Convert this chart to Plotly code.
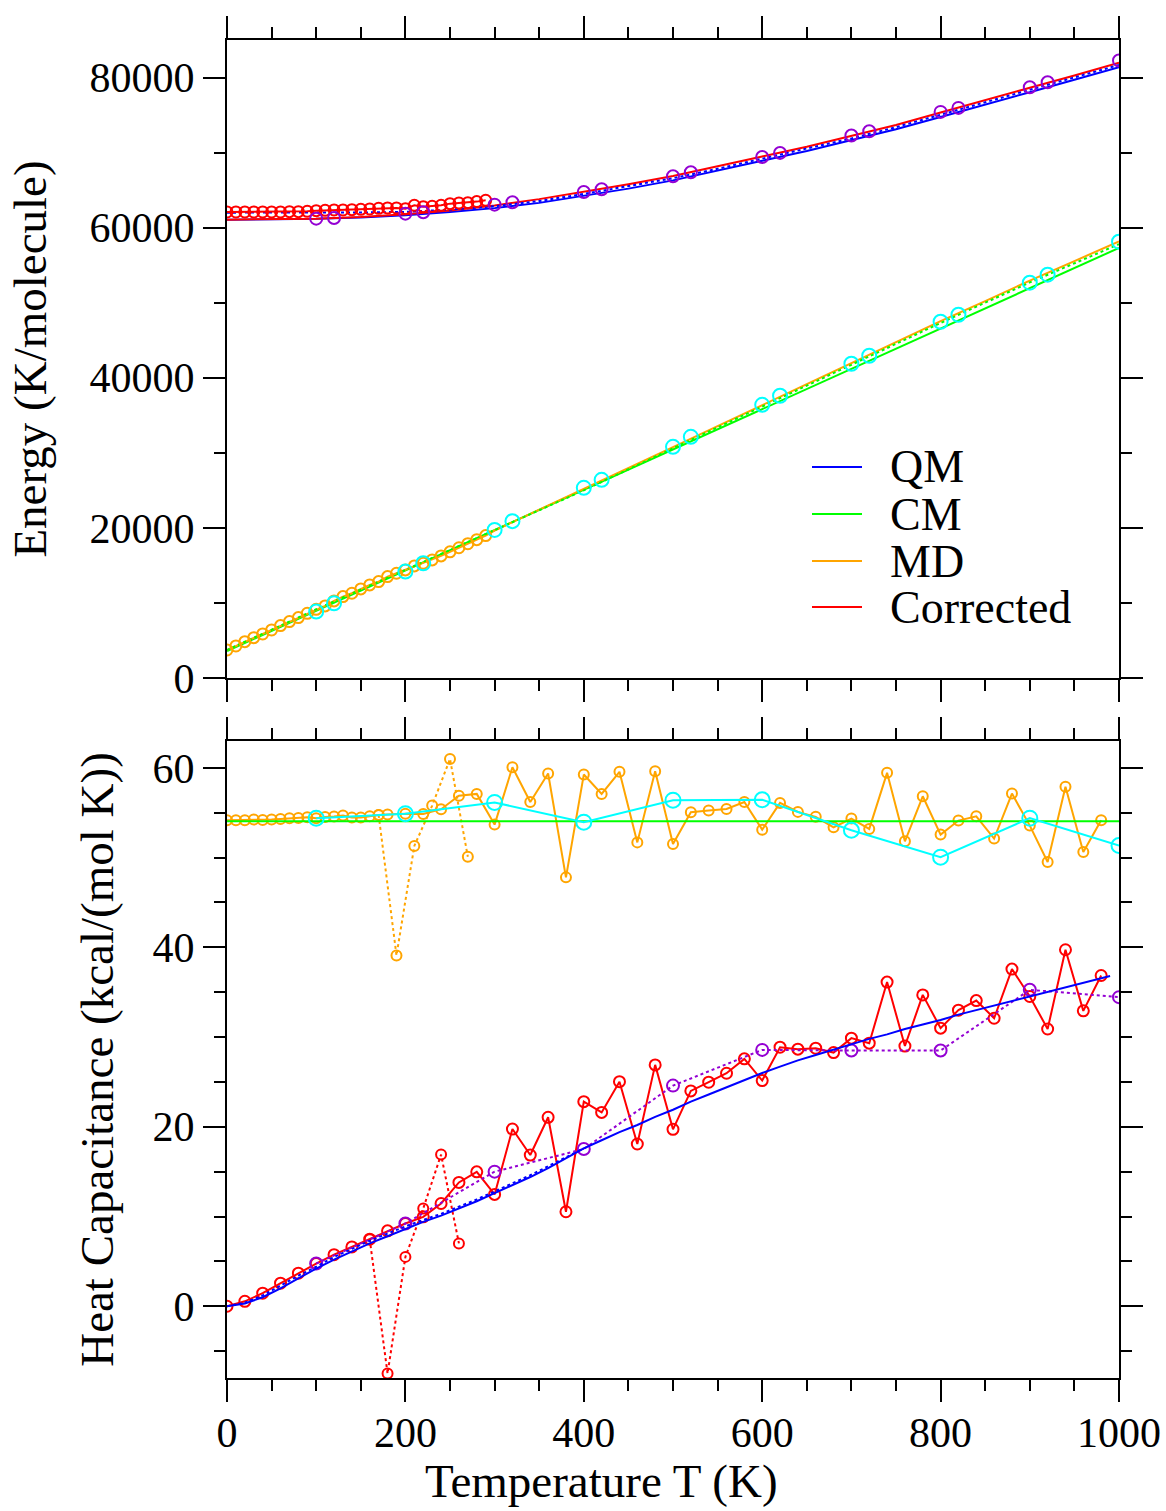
import plotly.graph_objects as go

# ================= TOP PANEL : Energy (K/molecule) =================
T_top_line = [0, 50, 100, 150, 200, 250, 300, 350, 400, 450, 500, 550, 600, 650, 700, 750, 800, 850, 900, 950, 1000]
E_qm = [61067, 61090, 61170, 61360, 61650, 62070, 62600, 63300, 64200, 65200, 66300, 67550, 68900,
        70200, 71600, 73100, 74750, 76350, 78050, 79700, 81380]
E_qm_dot = [62000, 62000, 62000, 62020, 62100, 62400, 62850, 63550, 64490, 65490, 66590, 67840, 69190,
            70490, 71890, 73390, 75040, 76640, 78340, 79990, 81670]
E_corr = [61067, 61100, 61200, 61420, 61800, 62300, 62950, 63800, 64780, 65780, 66880, 68130, 69480,
          70780, 72180, 73680, 75330, 76930, 78630, 80280, 81960]
T_cm_line = [0, 1000]
E_cm = [3600, 57300]
T_md_line = [300, 350, 400, 450, 500, 550, 600, 650, 700, 750, 800, 850, 900, 950, 1000]
E_md_line = [19650, 22400, 25200, 27950, 30750, 33550, 36400, 39150, 41950, 44750, 47550, 50200, 52950, 55550, 58150]
T_cm_dot = [0, 100, 200, 300, 400, 500, 600, 700, 800, 900, 1000]
E_cm_dot = [3733, 9156, 14400, 19700, 25000, 30600, 36150, 41700, 47300, 52700, 57800]

T_circ = [0, 10, 20, 30, 40, 50, 60, 70, 80, 90, 100, 110, 120, 130, 140, 150, 160, 170, 180, 190,
          200, 210, 220, 230, 240, 250, 260, 270, 280, 290]
E_md_circ = [3733, 4267, 4844, 5378, 5867, 6400, 6978, 7511, 8044, 8622, 9156, 9600, 10267, 10844, 11289,
             11867, 12400, 12844, 13511, 13956, 14400, 14933, 15289, 15733, 16270, 16810, 17350, 17890,
             18430, 18970]
E_corr_circ = [62089, 62089, 62089, 62089, 62089, 62089, 62089, 62133, 62133, 62178, 62267, 62311, 62356,
               62356, 62400, 62444, 62489, 62578, 62622, 62622, 62533, 62978, 62800, 62844, 62978, 63200,
               63289, 63333, 63467, 63644]

T_pair = [100, 120, 200, 220, 300, 320, 400, 420, 500, 520, 600, 620, 700, 720, 800, 820, 900, 920, 1000]
E_cyan = [8844, 9956, 14178, 15289, 19733, 20900, 25333, 26400, 30800, 32133, 36400, 37600, 41867, 42933,
          47467, 48400, 52667, 53733, 58133]
E_purple = [61200, 61289, 61867, 62044, 63067, 63378, 64756, 65111, 66844, 67378, 69422, 69956, 72267,
            72844, 75422, 75956, 78711, 79378, 82267]

# ================= BOTTOM PANEL : Heat capacitance =================
T20 = [0, 20, 40, 60, 80, 100, 120, 140, 160, 180, 200, 220, 240, 260, 280, 300, 320, 340, 360, 380,
       400, 420, 440, 460, 480, 500, 520, 540, 560, 580, 600, 620, 640, 660, 680, 700, 720, 740, 760, 780,
       800, 820, 840, 860, 880, 900, 920, 940, 960, 980]
Cv_corr = [0, 0.55, 1.45, 2.57, 3.68, 4.76, 5.75, 6.61, 7.47, 8.4,
           9.22, 9.96, 11.45, 13.8, 14.98, 12.46, 19.75, 16.85, 21.06, 10.53,
           22.8, 21.6, 25.03, 18.08, 26.9, 19.72, 24.0, 24.97, 25.97, 27.57,
           25.15, 28.87, 28.65, 28.76, 28.27, 29.88, 29.32, 36.13, 29.0, 34.7,
           30.99, 33.0, 34.07, 32.1, 37.58, 34.52, 30.9, 39.73, 32.92, 36.86]
T_qm_cv = T20 + [990]
Cv_qm = [0, 0.3, 1.0, 2.0, 3.1, 4.2, 5.2, 6.1, 7.0, 7.8,
         8.6, 9.4, 10.1, 10.9, 11.7, 12.6, 13.5, 14.4, 15.4, 16.5,
         17.6, 18.5, 19.4, 20.2, 21.1, 21.9, 22.8, 23.6, 24.4, 25.2,
         26.0, 26.7, 27.4, 28.0, 28.6, 29.2, 29.8, 30.3, 30.9, 31.4,
         31.9, 32.5, 33.0, 33.5, 34.0, 34.5, 35.0, 35.5, 36.0, 36.5, 36.8]
T_qm_dot = [0, 20, 40, 60, 80, 100, 120, 140, 160, 180, 200, 220, 240, 260, 280, 300, 320, 340, 360, 380, 400]
Cv_qm_dot = [0, 0.4, 1.2, 2.3, 3.4, 4.4, 5.5, 6.4, 7.3, 8.1, 8.9, 9.6, 10.3, 11.1, 11.9, 12.8, 13.7,
             14.6, 15.6, 16.6, 17.6]
T_md_cv = [0, 10, 20, 30, 40, 50, 60, 70, 80, 90, 100, 110, 120, 130, 140, 150, 160, 170, 180,
           200, 220, 240, 260, 280, 300, 320, 340, 360, 380, 400, 420, 440, 460, 480, 500, 520, 540,
           560, 580, 600, 620, 640, 660, 680, 700, 720, 740, 760, 780, 800, 820, 840, 860, 880, 900,
           920, 940, 960, 980]
Cv_md = [54.17, 54.17, 54.17, 54.24, 54.2, 54.24, 54.3, 54.39, 54.43, 54.5, 54.4, 54.54, 54.58, 54.69,
         54.47, 54.47, 54.62, 54.76, 54.8,
         54.9, 54.87, 55.4, 56.9, 57.1, 53.68, 60.08, 56.2, 59.38, 47.8, 59.26, 57.1, 59.56, 51.7, 59.63,
         51.53, 55.06, 55.25, 55.43, 56.2, 53.12, 56.1, 55.1, 54.55, 53.38, 54.35, 53.2, 59.45, 51.82,
         56.84, 52.57, 54.13, 54.6, 52.12, 57.14, 53.57, 49.52, 57.9, 50.64, 54.17]
T_md_dot = [170, 190, 210, 230, 250, 270]
Cv_md_dot = [54.76, 39.1, 51.3, 55.8, 61.0, 50.1]
T_corr_dot = [160, 180, 200, 220, 240, 260]
Cv_corr_dot = [7.47, -7.5, 5.5, 10.9, 16.9, 7.0]
T_cm_cv = [0, 1000]
Cv_cm = [54.05, 54.05]
T100 = [100, 200, 300, 400, 500, 600, 700, 800, 900, 1000]
Cv_cyan = [54.4, 54.9, 56.15, 53.95, 56.4, 56.45, 53.05, 50.05, 54.4, 51.35]
Cv_purple = [4.76, 9.22, 15.0, 17.52, 24.59, 28.57, 28.5, 28.5, 35.27, 34.45]

LEGEND_NAMES = ["QM", "CM", "MD", "Corrected"]

BLUE, GREEN, ORANGE, RED = "#0000ff", "#00ff00", "#ffa500", "#ff0000"
CYAN, PURPLE = "#00ffff", "#9400d3"
LEGEND_COLORS = [BLUE, GREEN, ORANGE, RED]
FONT = "Liberation Serif, Times New Roman, serif"

fig = go.Figure()


def add(x, y, top, color, mode="lines", dash="solid", size=10, name=None):
    fig.add_trace(go.Scatter(
        x=x, y=y, mode=mode, name=name, showlegend=False,
        xaxis="x2" if top else "x", yaxis="y2" if top else "y",
        line=dict(color=color, width=2, dash=dash),
        marker=dict(symbol="circle-open", size=size, color=color, line=dict(width=2, color=color)),
    ))


# top panel
add(T_top_line, E_qm, True, BLUE, name="QM")
add(T_cm_line, E_cm, True, GREEN, name="CM")
add(T_circ + T_md_line, E_md_circ + E_md_line, True, ORANGE, name="MD")
add(T_top_line, E_corr, True, RED, name="Corrected")
add(T_top_line, E_qm_dot, True, BLUE, dash="dot")
add(T_cm_dot, E_cm_dot, True, GREEN, dash="dot")
add(T_circ, E_md_circ, True, ORANGE, mode="markers", size=11)
add(T_circ, E_corr_circ, True, RED, mode="lines+markers", size=11)
add(T_pair, E_cyan, True, CYAN, mode="markers", size=14)
add(T_pair, E_purple, True, PURPLE, mode="markers", size=12)

# bottom panel
add(T_md_dot, Cv_md_dot, False, ORANGE, mode="lines+markers", dash="dot", size=10)
add(T_md_cv, Cv_md, False, ORANGE, mode="lines+markers", size=10)
add(T_cm_cv, Cv_cm, False, GREEN)
add(T100, Cv_cyan, False, CYAN, mode="lines+markers", size=15)
add(T_corr_dot, Cv_corr_dot, False, RED, mode="lines+markers", dash="dot", size=10)
add(T20, Cv_corr, False, RED, mode="lines+markers", size=11)
add(T100, Cv_purple, False, PURPLE, mode="lines+markers", dash="dot", size=12)
add(T_qm_dot, Cv_qm_dot, False, BLUE, dash="dot")
add(T_qm_cv, Cv_qm, False, BLUE)

# ---- page geometry (pixels) ----
W, H = 1166, 1511
L, R, TOP, BOT = 227, 1119, 40, 1378


def px2paper(px, py):
    return (px - L) / (R - L), (BOT - py) / (BOT - TOP)


axis_common = dict(
    showline=True, linewidth=2, linecolor="black", mirror="allticks",
    ticks="outside", ticklen=22, tickwidth=2, tickcolor="black",
    showgrid=False, zeroline=False, automargin=False,
    tickfont=dict(family=FONT, size=42, color="black"),
)
minor_common = dict(ticks="outside", ticklen=11, tickwidth=2, tickcolor="black")

# manual legend (lines + text)
shapes, annotations = [], []
legend_rows_py = [467, 514, 561, 607]
for name, color, py in zip(LEGEND_NAMES, LEGEND_COLORS, legend_rows_py):
    x0, y0 = px2paper(812, py)
    x1, _ = px2paper(862, py)
    shapes.append(dict(type="line", xref="paper", yref="paper", x0=x0, x1=x1, y0=y0, y1=y0,
                       line=dict(color=color, width=2)))
    tx, ty = px2paper(888, py)
    annotations.append(dict(text=name, xref="paper", yref="paper", x=tx, y=ty, xanchor="left",
                            yanchor="middle", showarrow=False,
                            font=dict(family=FONT, size=46, color="black")))

tx, ty = px2paper(601, 1481)
annotations.append(dict(text="Temperature T (K)", xref="paper", yref="paper", x=tx, y=ty,
                        xanchor="center", yanchor="middle", showarrow=False,
                        font=dict(family=FONT, size=47, color="black")))

fig.update_layout(
    width=W, height=H,
    margin=dict(l=L, r=W - R, t=TOP, b=H - BOT, autoexpand=False),
    paper_bgcolor="white", plot_bgcolor="white",
    font=dict(family=FONT, color="black"),
    showlegend=False,
    xaxis=dict(axis_common, domain=[0, 1], anchor="y", range=[0, 1000], dtick=200,
               ticklabelstandoff=-5, minor=dict(minor_common, dtick=50)),
    yaxis=dict(axis_common, domain=[0, (BOT - 741) / (BOT - TOP)], anchor="x", range=[-8, 63], dtick=20,
               minor=dict(minor_common, dtick=5),
               title=dict(text="Heat Capacitance (kcal/(mol K))", font=dict(family=FONT, size=47), standoff=24)),
    xaxis2=dict(axis_common, domain=[0, 1], anchor="y2", range=[0, 1000], dtick=200, matches="x",
                showticklabels=False, minor=dict(minor_common, dtick=50)),
    yaxis2=dict(axis_common, domain=[(BOT - 678) / (BOT - TOP), 1], anchor="x2", range=[0, 85000],
                dtick=20000, tickformat="d", minor=dict(minor_common, dtick=10000),
                title=dict(text="Energy (K/molecule)", font=dict(family=FONT, size=47), standoff=28)),
    shapes=shapes,
    annotations=annotations,
)

fig.write_html("out.html")
